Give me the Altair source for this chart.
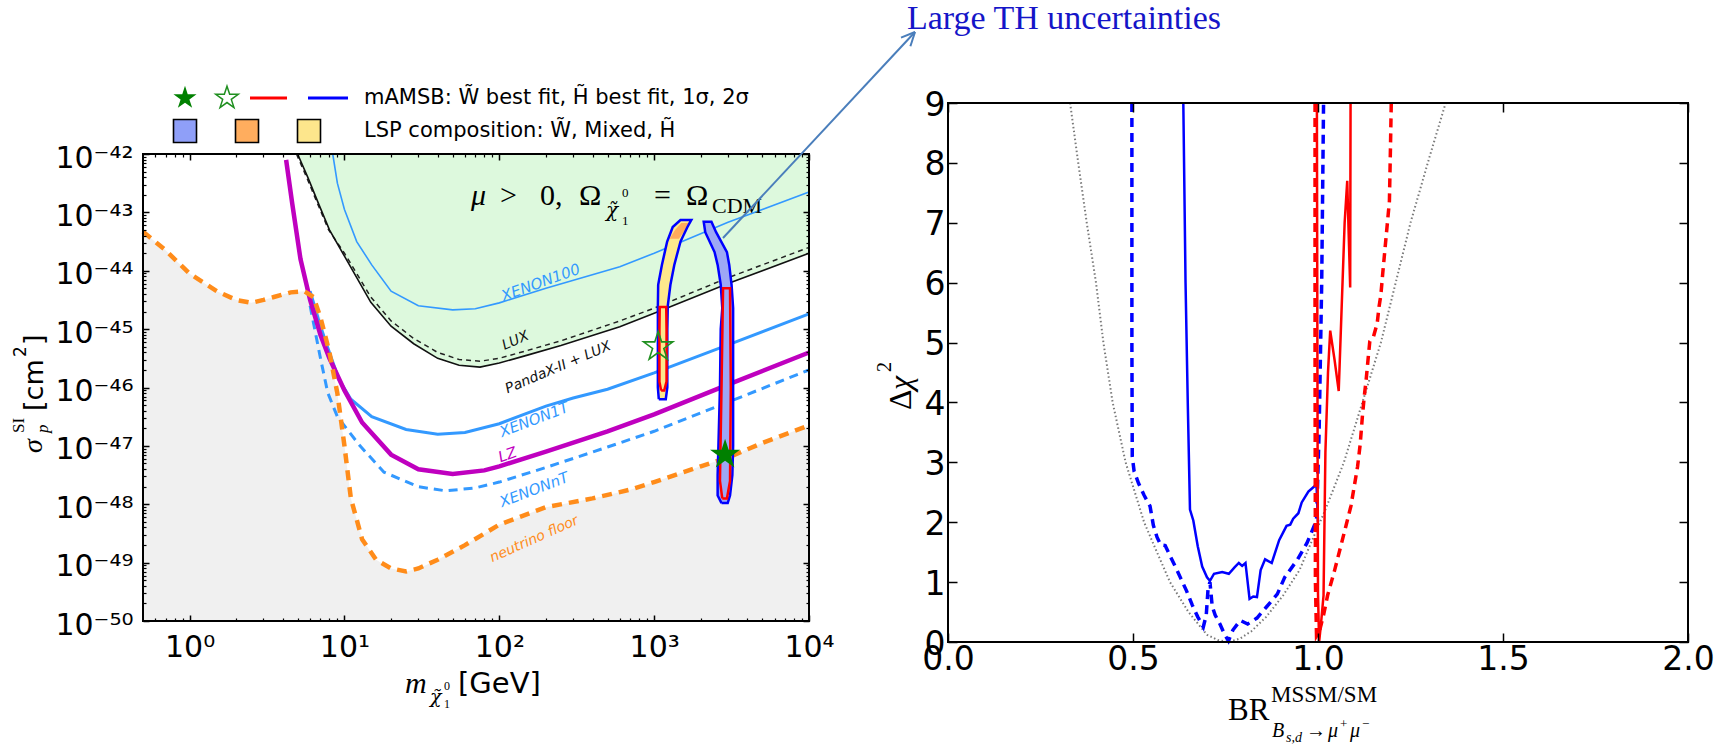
import altair as alt
import pandas as pd

W, H = 1727, 744

# ---------------- left panel: SI cross-section vs neutralino mass ----------------
# masses in GeV, cross-sections as log10(sigma / cm^2)
nu_m = [0.5, 0.7, 1.0, 1.5, 2.0, 2.5, 3.0, 3.5, 4.5, 5.5, 6.3, 7.0, 8.0, 9.0, 10.0, 11.0, 13.0, 16.0,
        20.0, 25.0, 30.0, 40.0, 60.0, 100.0, 200.0, 400.0, 700.0, 1000.0, 2000.0, 3000.0, 5000.0, 10000.0]
nu_ls = [-43.33, -43.65, -44.05, -44.35, -44.5, -44.55, -44.5, -44.45, -44.37, -44.35, -44.45, -44.8,
         -45.4, -46.1, -47.0, -47.9, -48.6, -48.95, -49.1, -49.15, -49.1, -48.95, -48.7, -48.35, -48.05,
         -47.9, -47.75, -47.62, -47.35, -47.2, -46.95, -46.65]

lz_m = [4.2, 4.6, 5.2, 6.0, 7.0, 8.0, 10.0, 13.0, 20.0, 30.0, 50.0, 80.0, 100.0, 200.0, 500.0, 1000.0, 3000.0, 10000.0]
lz_ls = [-42.1, -42.85, -43.8, -44.5, -45.1, -45.5, -46.05, -46.6, -47.15, -47.4, -47.48, -47.42, -47.35,
         -47.1, -46.75, -46.46, -45.95, -45.4]

x1t_m = [6.0, 7.0, 8.0, 9.2, 11.0, 15.0, 25.0, 40.0, 60.0, 100.0, 200.0, 300.0, 500.0, 1000.0, 3000.0, 10000.0]
x1t_ls = [-44.35, -44.95, -45.4, -45.86, -46.2, -46.5, -46.72, -46.8, -46.77, -46.62, -46.32, -46.18,
          -46.03, -45.75, -45.27, -44.74]

xnt_m = [6.0, 7.0, 7.8, 9.0, 12.6, 18.0, 30.0, 45.0, 70.0, 100.0, 200.0, 500.0, 1000.0, 3000.0, 10000.0]
xnt_ls = [-44.6, -45.5, -46.09, -46.5, -47.0, -47.45, -47.7, -47.77, -47.72, -47.62, -47.37, -47.02,
          -46.75, -46.25, -45.7]

x100_m = [8.4, 9.0, 10.0, 12.0, 15.0, 20.0, 30.0, 50.0, 70.0, 100.0, 200.0, 600.0, 1000.0, 3000.0, 10000.0]
x100_ls = [-42.0, -42.5, -42.95, -43.5, -43.9, -44.35, -44.6, -44.67, -44.65, -44.55, -44.3, -43.93,
           -43.7, -43.17, -42.65]

panda_m = [4.98, 5.8, 6.8, 8.0, 10.0, 14.8, 20.0, 28.0, 40.0, 55.0, 75.0, 100.0, 150.0, 250.0, 600.0,
           1000.0, 3000.0, 10000.0]
panda_ls = [-42.0, -42.4, -42.85, -43.3, -43.75, -44.54, -44.95, -45.25, -45.5, -45.62, -45.65, -45.58,
            -45.45, -45.28, -44.96, -44.73, -44.22, -43.7]

lux_m = [4.9, 5.7, 6.7, 7.9, 10.0, 14.8, 20.0, 28.0, 40.0, 55.0, 75.0, 100.0, 150.0, 250.0, 600.0,
         1000.0, 3000.0, 10000.0]
lux_ls = [-42.0, -42.4, -42.85, -43.3, -43.7, -44.45, -44.86, -45.16, -45.4, -45.52, -45.55, -45.5,
          -45.37, -45.2, -44.86, -44.64, -44.12, -43.6]

# mAMSB islands: log10(sigma) rows with left/right edges in log10(mass)
isl1_ls = [-46.2, -46.0, -45.0, -44.6, -44.24, -43.9, -43.5, -43.25, -43.13]
isl1_lo = [3.03, 3.024, 3.024, 3.024, 3.026, 3.05, 3.084, 3.12, 3.17]
isl1_hi = [3.075, 3.085, 3.085, 3.088, 3.105, 3.13, 3.17, 3.215, 3.24]
isl1top_ls = [-43.45, -43.3, -43.18]
isl1top_lo = [3.10, 3.135, 3.175]
isl1top_hi = [3.16, 3.20, 3.225]
isl1r_lm = [3.045, 3.034, 3.034, 3.036, 3.078, 3.08, 3.08, 3.065, 3.045]
isl1r_ls = [-46.05, -45.9, -45.0, -44.62, -44.62, -45.0, -45.9, -46.05, -46.05]

isl2_ls = [-47.98, -47.85, -47.5, -47.0, -46.0, -45.0, -44.64, -44.24, -43.9, -43.68, -43.34, -43.16]
isl2_lo = [3.435, 3.41, 3.41, 3.415, 3.425, 3.43, 3.44, 3.43, 3.41, 3.39, 3.33, 3.32]
isl2_hi = [3.475, 3.49, 3.505, 3.51, 3.51, 3.51, 3.51, 3.50, 3.485, 3.47, 3.40, 3.37]
isl2r_lm = [3.44, 3.425, 3.435, 3.445, 3.49, 3.495, 3.49, 3.47, 3.44]
isl2r_ls = [-47.9, -47.6, -46.0, -44.3, -44.3, -46.0, -47.6, -47.9, -47.9]

star_m = [2871.0, 1062.0]     # Wino best fit (filled), Higgsino best fit (open)
star_ls = [-47.15, -45.30]

# ---------------- right panel: Delta chi^2 vs BR ratio ----------------
dot_x = [0.33, 0.352, 0.375, 0.40, 0.42, 0.445, 0.48, 0.53, 0.557, 0.60, 0.65, 0.70, 0.73, 0.76, 0.79,
         0.82, 0.86, 0.906, 0.95, 0.978, 1.02, 1.07, 1.115, 1.17, 1.21, 1.25, 1.30, 1.345]
dot_y = [9.0, 8.0, 7.0, 6.0, 5.0, 4.0, 3.0, 2.0, 1.61, 1.0, 0.5, 0.12, 0.03, 0.0, 0.06, 0.18, 0.42,
         0.78, 1.2, 1.61, 2.21, 3.0, 3.9, 5.0, 6.0, 7.0, 8.07, 9.0]

bs_x = [0.636, 0.642, 0.648, 0.654, 0.663, 0.675, 0.687, 0.700, 0.708, 0.719, 0.741, 0.759, 0.775, 0.786,
        0.795, 0.804, 0.815, 0.825, 0.835, 0.845, 0.857, 0.875, 0.895, 0.915, 0.925, 0.933, 0.947, 0.956,
        0.974, 0.996, 1.0]
bs_y = [9.0, 6.0, 4.0, 2.21, 2.03, 1.6, 1.26, 1.08, 1.02, 1.14, 1.17, 1.14, 1.25, 1.32, 1.27, 1.32, 0.72,
        0.76, 0.75, 1.2, 1.38, 1.32, 1.7, 1.94, 1.96, 2.06, 2.15, 2.33, 2.51, 2.63, 2.0]

bd_x = [0.497, 0.497, 0.498, 0.503, 0.515, 0.53, 0.546, 0.555, 0.565, 0.575, 0.587, 0.60, 0.615, 0.63,
        0.645, 0.66, 0.675, 0.69, 0.698, 0.703, 0.708, 0.714, 0.722, 0.735, 0.748, 0.758, 0.77, 0.79,
        0.81, 0.835, 0.86, 0.89, 0.91, 0.945, 0.97, 0.996, 1.003, 1.01, 1.015]
bd_y = [9.0, 5.0, 3.1, 2.85, 2.65, 2.45, 2.27, 1.95, 1.75, 1.62, 1.61, 1.44, 1.25, 1.05, 0.85, 0.62,
        0.42, 0.25, 0.45, 0.9, 1.0, 0.6, 0.45, 0.3, 0.12, 0.02, 0.2, 0.36, 0.3, 0.4, 0.58, 0.8, 1.08,
        1.38, 1.65, 2.03, 3.5, 6.0, 9.0]

rs_x = [0.997, 0.998, 0.999, 1.0, 1.003, 1.008, 1.015, 1.02, 1.027, 1.033, 1.045, 1.056, 1.072, 1.079,
        1.083, 1.087, 1.0875, 1.088]
rs_y = [9.0, 6.0, 3.0, 0.8, 0.0, 0.3, 0.78, 3.17, 4.5, 5.2, 4.7, 4.19, 7.0, 7.7, 6.8, 5.92, 7.5, 9.0]

rd_x = [0.992, 0.992, 0.993, 0.996, 1.004, 1.015, 1.026, 1.045, 1.062, 1.076, 1.089, 1.098, 1.107, 1.114,
        1.12, 1.125, 1.13, 1.135, 1.14, 1.15, 1.16, 1.165, 1.17, 1.175, 1.184, 1.193, 1.196, 1.198]
rd_y = [9.0, 5.0, 1.0, 0.1, 0.18, 0.45, 0.78, 1.2, 1.61, 1.95, 2.27, 2.6, 2.93, 3.3, 3.77, 4.1, 4.37,
        4.7, 5.02, 5.1, 5.32, 5.6, 5.8, 6.16, 6.76, 7.36, 8.3, 9.0]

# ---------------- layout (pixels) ----------------
L_X0, L_X1, L_Y0, L_Y1 = 143, 809, 154, 621
R_X0, R_X1, R_Y0, R_Y1 = 948, 1688, 103, 642

LX = alt.Scale(type="log", domain=[0.5, 1e4], range=[L_X0, L_X1], nice=False)
LY = alt.Scale(type="log", domain=[1e-50, 1e-42], range=[L_Y1, L_Y0], nice=False)
RX = alt.Scale(type="linear", domain=[0, 2], range=[R_X0, R_X1], nice=False, zero=False)
RY = alt.Scale(type="linear", domain=[0, 9], range=[R_Y1, R_Y0], nice=False, zero=False)

ONE = pd.DataFrame({"k": [0]})
SANS = "DejaVu Sans"
SERIF = "Liberation Serif"
STAR = ("M0,-1L0.2245,-0.309L0.951,-0.309L0.363,0.118L0.588,0.809L0,0.382L-0.588,0.809"
        "L-0.363,0.118L-0.951,-0.309L-0.2245,-0.309Z")


def p10(vals):
    return [10.0 ** v for v in vals]


def lline(ms, lss, color, width, dash=None):
    df = pd.DataFrame({"m": ms, "s": p10(lss), "i": list(range(len(ms)))})
    kw = dict(color=color, strokeWidth=width)
    if dash:
        kw["strokeDash"] = dash
    return alt.Chart(df).mark_line(**kw).encode(
        x=alt.X("m:Q", scale=LX, axis=None), y=alt.Y("s:Q", scale=LY, axis=None), order="i:Q")


def lpoly(lms, lss, color, width):
    return lline(p10(lms), lss, color, width)


def island_fill(lss, lo, hi, color):
    df = pd.DataFrame({"s": p10(lss), "lo": p10(lo), "hi": p10(hi)})
    return alt.Chart(df).mark_area(orient="horizontal", color=color).encode(
        y=alt.Y("s:Q", scale=LY, axis=None), x=alt.X("lo:Q", scale=LX, axis=None), x2="hi:Q")


def rline(xs, ys, color, width, dash=None):
    df = pd.DataFrame({"x": xs, "y": ys, "i": list(range(len(xs)))})
    kw = dict(color=color, strokeWidth=width)
    if dash:
        kw["strokeDash"] = dash
    return alt.Chart(df).mark_line(**kw).encode(
        x=alt.X("x:Q", scale=RX, axis=None), y=alt.Y("y:Q", scale=RY, axis=None), order="i:Q")


def ltext(txt, m, ls, color, size, angle=0):
    return alt.Chart(ONE).mark_text(text=txt, color=color, fontSize=size, angle=angle, fontStyle="italic",
                                    font=SANS, align="center", baseline="middle").encode(
        x=alt.XDatum(m, type="quantitative", scale=LX, axis=None),
        y=alt.YDatum(10.0 ** ls, type="quantitative", scale=LY, axis=None))


def ptext(txt, x, y, size, font=SANS, color="black", angle=0, style="normal", align="left", baseline="alphabetic"):
    return alt.Chart(ONE).mark_text(text=txt, fontSize=size, font=font, color=color, angle=angle,
                                    fontStyle=style, align=align, baseline=baseline).encode(
        x=alt.value(x), y=alt.value(y))


def prule(x0, y0, x1, y1, color, width):
    return alt.Chart(ONE).mark_rule(color=color, strokeWidth=width).encode(
        x=alt.value(x0), y=alt.value(y0), x2=alt.value(x1), y2=alt.value(y1))


def frame(x0, x1, y0, y1):
    return alt.Chart(ONE).mark_rect(fillOpacity=0, stroke="black", strokeWidth=2).encode(
        x=alt.value(x0), x2=alt.value(x1), y=alt.value(y0), y2=alt.value(y1))


def axis_layer(xs, ys, sx, sy, xaxis, yaxis):
    df = pd.DataFrame({"x": xs, "y": ys})
    return alt.Chart(df).mark_point(opacity=0).encode(
        x=alt.X("x:Q", scale=sx, axis=xaxis), y=alt.Y("y:Q", scale=sy, axis=yaxis))


SUP = str.maketrans("-0123456789", "⁻⁰¹²³⁴⁵⁶⁷⁸⁹")


def pow_label(e):
    return "10" + str(e).translate(SUP)


def pow_expr(exps):
    parts = [f"datum.value < {3.16 * 10.0 ** e:.4e} ? '{pow_label(e)}'" for e in exps[:-1]]
    return " : ".join(parts) + f" : '{pow_label(exps[-1])}'"


AX = dict(grid=False, domain=False, title=None, tickColor="black", labelColor="black", zindex=3,
          labelFont=SANS, labelFlush=False, labelOverlap=False)

x_major = [1, 10, 100, 1000, 10000]
x_minor = [k * 10.0 ** d for d in range(-1, 4) for k in range(2, 10) if 0.5 < k * 10.0 ** d < 1e4]
y_major = [10.0 ** e for e in range(-50, -41)]
y_minor = [k * 10.0 ** d for d in range(-50, -42) for k in range(2, 10)]

lx_bot = alt.Axis(orient="bottom", values=x_major, offset=(L_Y1 - 6) - H, tickSize=6, tickWidth=1.5,
                  labelExpr=pow_expr(list(range(0, 5))), labelFontSize=30, labelPadding=11, **AX)
lx_bot_m = alt.Axis(orient="bottom", values=x_minor, offset=(L_Y1 - 3) - H, tickSize=3, tickWidth=1.2,
                    labels=False, **AX)
lx_top = alt.Axis(orient="top", values=x_major, offset=-(L_Y0 + 6), tickSize=6, tickWidth=1.5,
                  labels=False, **AX)
lx_top_m = alt.Axis(orient="top", values=x_minor, offset=-(L_Y0 + 3), tickSize=3, tickWidth=1.2,
                    labels=False, **AX)
ly_left = alt.Axis(orient="left", values=y_major, offset=-(L_X0 + 6), tickSize=6, tickWidth=1.5,
                   labelExpr=pow_expr(list(range(-50, -41))), labelFontSize=30, labelPadding=10,
                   labelOffset=4, **AX)
ly_left_m = alt.Axis(orient="left", values=y_minor, offset=-(L_X0 + 3), tickSize=3, tickWidth=1.2,
                     labels=False, **AX)
ly_right = alt.Axis(orient="right", values=y_major, offset=(L_X1 - 6) - W, tickSize=6, tickWidth=1.5,
                    labels=False, **AX)
ly_right_m = alt.Axis(orient="right", values=y_minor, offset=(L_X1 - 3) - W, tickSize=3, tickWidth=1.2,
                      labels=False, **AX)

rx_bot = alt.Axis(orient="bottom", values=[0, 0.5, 1, 1.5, 2], format=".1f", offset=(R_Y1 - 9) - H,
                  tickSize=9, tickWidth=1.5, labelFontSize=33, labelPadding=1, **AX)
rx_top = alt.Axis(orient="top", values=[0, 0.5, 1, 1.5, 2], offset=-(R_Y0 + 9), tickSize=9, tickWidth=1.5,
                  labels=False, **AX)
ry_left = alt.Axis(orient="left", values=list(range(0, 10)), format="d", offset=-(R_X0 + 9), tickSize=9,
                   tickWidth=1.5, labelFontSize=33, labelPadding=3, labelOffset=2, **AX)
ry_right = alt.Axis(orient="right", values=list(range(0, 10)), offset=(R_X1 - 9) - W, tickSize=9,
                    tickWidth=1.5, labels=False, **AX)

LXD, LYD = [0.5, 1e4], [1e-50, 1e-42]
RXD, RYD = [0, 2], [0, 9]

# ---------------- left panel layers ----------------
green = alt.Chart(pd.DataFrame({"m": panda_m, "s": p10(panda_ls), "top": 1e-42})).mark_area(
    color="#ddf9dd").encode(x=alt.X("m:Q", scale=LX, axis=None), y=alt.Y("s:Q", scale=LY, axis=None),
                            y2="top:Q")
gray = alt.Chart(pd.DataFrame({"m": nu_m, "s": p10(nu_ls), "bot": 1e-50})).mark_area(
    color="#f0f0f0").encode(x=alt.X("m:Q", scale=LX, axis=None), y=alt.Y("s:Q", scale=LY, axis=None),
                            y2="bot:Q")

STAR_DF_F = pd.DataFrame({"m": star_m[:1], "s": p10(star_ls[:1])})
STAR_DF_O = pd.DataFrame({"m": star_m[1:], "s": p10(star_ls[1:])})
star_f = alt.Chart(STAR_DF_F).mark_point(shape=STAR, filled=True, color="#008000", size=1000, opacity=1).encode(
    x=alt.X("m:Q", scale=LX, axis=None), y=alt.Y("s:Q", scale=LY, axis=None))
star_o = alt.Chart(STAR_DF_O).mark_point(shape=STAR, filled=False, color="#1f8f1f", strokeWidth=1.6,
                                         size=950, opacity=1).encode(
    x=alt.X("m:Q", scale=LX, axis=None), y=alt.Y("s:Q", scale=LY, axis=None))

left_layers = [
    green, gray,
    lline(x100_m, x100_ls, "#3399ff", 1.6),
    lline(lux_m, lux_ls, "#222222", 1.5, [5, 4]),
    lline(panda_m, panda_ls, "#111111", 1.6),
    lline(x1t_m, x1t_ls, "#3399ff", 3),
    lline(xnt_m, xnt_ls, "#3399ff", 3, [9, 6]),
    lline(lz_m, lz_ls, "#bf00bf", 4.5),
    lline(nu_m, nu_ls, "#ff8c1a", 4.5, [10, 7]),
    island_fill(isl1_ls, isl1_lo, isl1_hi, "#fde88c"),
    island_fill(isl1top_ls, isl1top_lo, isl1top_hi, "#ffab5c"),
    island_fill(isl2_ls, isl2_lo, isl2_hi, "#9da7f5"),
    lpoly(isl1_lo + isl1_hi[::-1] + isl1_lo[:1], isl1_ls + isl1_ls[::-1] + isl1_ls[:1], "#0000ff", 2.5),
    lpoly(isl2_lo + isl2_hi[::-1] + isl2_lo[:1], isl2_ls + isl2_ls[::-1] + isl2_ls[:1], "#0000ff", 2.5),
    lpoly(isl1r_lm, isl1r_ls, "#ff0000", 2.5),
    lpoly(isl2r_lm, isl2r_ls, "#ff0000", 2.5),
    star_f, star_o,
    ltext("XENON100", 185, -44.2, "#3399ff", 15, 340),
    ltext("LUX", 127, -45.2, "#111111", 14, 336),
    ltext("PandaX-II + LUX", 240, -45.66, "#111111", 14, 337),
    ltext("XENON1T", 168, -46.55, "#3399ff", 15, 339),
    ltext("LZ", 113, -47.15, "#bf00bf", 15, 340),
    ltext("XENONnT", 168, -47.75, "#3399ff", 15, 339),
    ltext("neutrino floor", 168, -48.6, "#ff8c1a", 14, 336),
    frame(L_X0, L_X1, L_Y0, L_Y1),
    axis_layer(LXD, LYD, LX, LY, lx_bot, ly_left),
    axis_layer(LXD, LYD, LX, LY, lx_bot_m, ly_left_m),
    axis_layer(LXD, LYD, LX, LY, lx_top, ly_right),
    axis_layer(LXD, LYD, LX, LY, lx_top_m, ly_right_m),
]
left = alt.layer(*left_layers).resolve_axis(x="independent", y="independent")

# ---------------- right panel layers ----------------
right_layers = [
    rline(dot_x, dot_y, "#7a7a7a", 2, [1.5, 2.5]),
    rline(bs_x, bs_y, "#0000ff", 2.5),
    rline(bd_x, bd_y, "#0000ff", 3.5, [9, 6]),
    rline(rd_x, rd_y, "#ff0000", 3.5, [9, 6]),
    rline(rs_x, rs_y, "#ff0000", 2.5),
    frame(R_X0, R_X1, R_Y0, R_Y1),
    axis_layer(RXD, RYD, RX, RY, rx_bot, ry_left),
    axis_layer(RXD, RYD, RX, RY, rx_top, ry_right),
]
right = alt.layer(*right_layers).resolve_axis(x="independent", y="independent")

# ---------------- decorations: legend, titles, annotation ----------------
deco_layers = [
    # legend
    alt.Chart(ONE).mark_point(shape=STAR, filled=True, color="#008000", size=590, opacity=1).encode(
        x=alt.value(185), y=alt.value(98)),
    alt.Chart(ONE).mark_point(shape=STAR, filled=False, color="#1f8f1f", strokeWidth=1.5, size=560,
                              opacity=1).encode(x=alt.value(227), y=alt.value(98)),
    prule(250, 98, 287, 98, "#ff0000", 3),
    prule(308, 98, 348, 98, "#0000ff", 3),
    ptext("mAMSB: W̃ best fit, H̃ best fit, 1σ, 2σ", 364, 98, 21, baseline="middle"),
    alt.Chart(ONE).mark_point(shape="square", filled=True, fill="#8f9ff8", stroke="black", strokeWidth=1.6,
                              size=529, opacity=1).encode(x=alt.value(185), y=alt.value(131)),
    alt.Chart(ONE).mark_point(shape="square", filled=True, fill="#ffad5e", stroke="black", strokeWidth=1.6,
                              size=529, opacity=1).encode(x=alt.value(247), y=alt.value(131)),
    alt.Chart(ONE).mark_point(shape="square", filled=True, fill="#fde68c", stroke="black", strokeWidth=1.6,
                              size=529, opacity=1).encode(x=alt.value(309), y=alt.value(131)),
    ptext("LSP composition: W̃, Mixed, H̃", 364, 131, 21, baseline="middle"),
    # in-plot condition label
    ptext("μ", 471, 205, 30, font=SERIF, style="italic"),
    ptext(">", 500, 205, 30, font=SERIF),
    ptext("0,", 540, 205, 30, font=SERIF),
    ptext("Ω", 579, 205, 30, font=SERIF),
    ptext("χ̃", 606, 217, 20, font="DejaVu Serif", style="italic"),
    ptext("0", 622, 197, 13, font=SERIF),
    ptext("1", 622, 225, 13, font=SERIF),
    ptext("=", 654, 205, 30, font=SERIF),
    ptext("Ω", 686, 205, 30, font=SERIF),
    ptext("CDM", 712, 213, 22, font=SERIF),
    # left axis titles
    ptext("m", 405, 693, 30, font=SERIF, style="italic"),
    ptext("χ̃", 430, 703, 19, font="DejaVu Serif", style="italic"),
    ptext("0", 444, 690, 12, font=SERIF),
    ptext("1", 444, 708, 12, font=SERIF),
    ptext("[GeV]", 458, 693, 29),
    ptext("σ", 42, 453, 28, font=SERIF, style="italic", angle=270),
    ptext("SI", 24, 433, 17, font=SERIF, angle=270),
    ptext("p", 48, 433, 17, font=SERIF, style="italic", angle=270),
    ptext("[cm", 43, 411, 27, angle=270),
    ptext("2", 26, 357, 17, angle=270),
    ptext("]", 43, 345, 27, angle=270),
    # right axis titles
    ptext("Δ", 911, 410, 32, font=SERIF, angle=270),
    ptext("χ", 911, 390, 32, font=SERIF, style="italic", angle=270),
    ptext("2", 891, 372, 20, font=SERIF, angle=270),
    ptext("BR", 1228, 720, 31, font=SERIF),
    ptext("MSSM/SM", 1271, 702, 23, font=SERIF),
    ptext("B", 1272, 737, 20, font=SERIF, style="italic"),
    ptext("s,d", 1286, 742, 14, font=SERIF, style="italic"),
    ptext("→", 1306, 737, 20, font=SERIF),
    ptext("μ", 1328, 737, 20, font=SERIF, style="italic"),
    ptext("+", 1340, 728, 13, font=SERIF),
    ptext("μ", 1350, 737, 20, font=SERIF, style="italic"),
    ptext("−", 1362, 728, 13, font=SERIF),
    # annotation arrow + text
    prule(723, 238, 915, 32, "#4a7ebb", 2),
    prule(915, 32, 901, 37.6, "#4a7ebb", 2),
    prule(915, 32, 910.4, 46.3, "#4a7ebb", 2),
    ptext("Large TH uncertainties", 907, 29, 34, font=SERIF, color="#1515c8"),
]
deco = alt.layer(*deco_layers)

chart = alt.layer(left, right, deco).resolve_scale(x="independent", y="independent").properties(
    width=W, height=H, autosize=alt.AutoSizeParams(type="none"), padding=0, background="white"
).configure_view(strokeWidth=0)

chart.save("out.html", embed_options={"renderer": "svg", "actions": False})
